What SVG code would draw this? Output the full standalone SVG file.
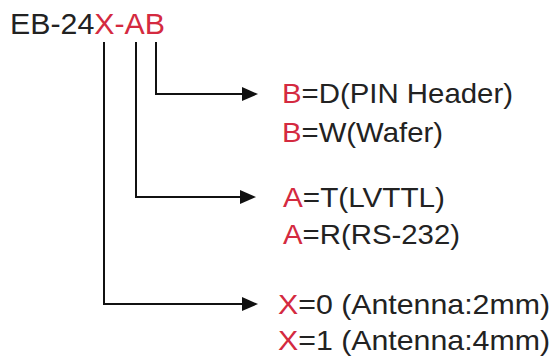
<svg xmlns="http://www.w3.org/2000/svg" width="553" height="356" viewBox="0 0 553 356">
<style>
text{font-family:"Liberation Sans",Arial,sans-serif;fill:#222}
.t{font-size:28.5px}
.r{fill:#d42a40}
.ln{fill:none;stroke:#111;stroke-width:2}
.ah{fill:#111}
</style>
<rect width="553" height="356" fill="#fff"/>
<g id="title">
<text x="10" y="34" font-size="30" textLength="155" lengthAdjust="spacingAndGlyphs">EB-24<tspan class="r">X-AB</tspan></text>
</g>
<g id="connectors">
<path class="ln" d="M156,42 V94 H242"/>
<path class="ah" d="M242,87 L258,94 L242,101 z"/>
<path class="ln" d="M136,42 V197 H240"/>
<path class="ah" d="M240,190 L256,197 L240,204 z"/>
<path class="ln" d="M104,42 V304 H242"/>
<path class="ah" d="M242,297 L258,304 L242,311 z"/>
</g>
<g id="node-b">
<text class="t" x="282" y="103" textLength="231" lengthAdjust="spacingAndGlyphs"><tspan class="r">B</tspan>=D(PIN Header)</text>
<text class="t" x="282" y="142" textLength="161" lengthAdjust="spacingAndGlyphs"><tspan class="r">B</tspan>=W(Wafer)</text>
</g>
<g id="node-a">
<text class="t" x="283" y="207" textLength="162" lengthAdjust="spacingAndGlyphs"><tspan class="r">A</tspan>=T(LVTTL)</text>
<text class="t" x="283" y="244" textLength="177" lengthAdjust="spacingAndGlyphs"><tspan class="r">A</tspan>=R(RS-232)</text>
</g>
<g id="node-x">
<text class="t" x="278" y="314" textLength="272" lengthAdjust="spacingAndGlyphs"><tspan class="r">X</tspan>=0 (Antenna:2mm)</text>
<text class="t" x="278" y="350" textLength="272" lengthAdjust="spacingAndGlyphs"><tspan class="r">X</tspan>=1 (Antenna:4mm)</text>
</g>
</svg>
